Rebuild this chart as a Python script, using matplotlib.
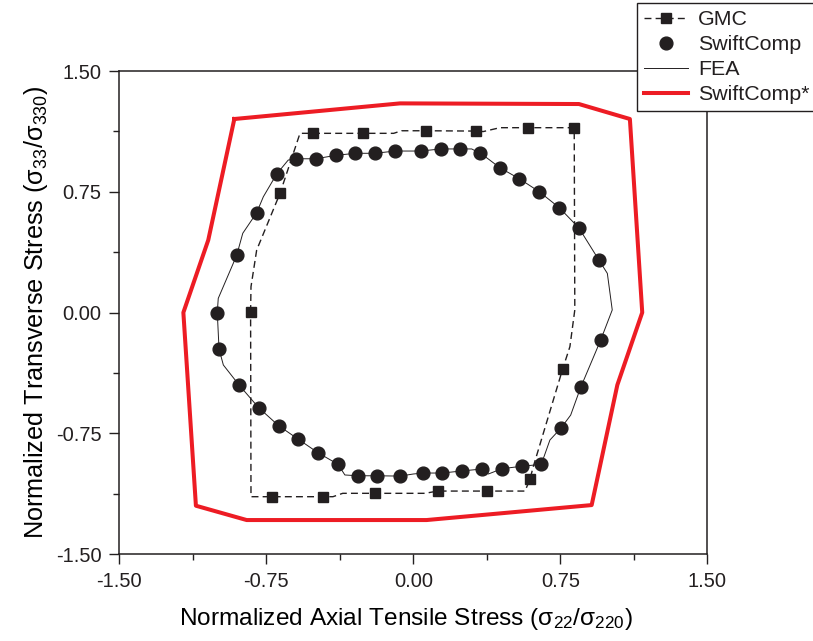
import matplotlib
matplotlib.use("Agg")
import matplotlib.pyplot as plt
from matplotlib.ticker import MultipleLocator

# GMC: dashed path, markers only at the measured points
gmc_x = [-0.830, -0.828, -0.799, -0.680, -0.578, -0.510, -0.258, -0.100, -0.060, 0.063, 0.320, 0.357,
         0.442, 0.587, 0.821, 0.824, 0.799, 0.762, 0.612, 0.595, 0.570, 0.378, 0.124, 0.060, -0.197,
         -0.360, -0.410, -0.462, -0.722, -0.828, -0.830]
gmc_y = [0.003, 0.160, 0.388, 0.740, 1.113, 1.113, 1.113, 1.113, 1.129, 1.129, 1.127, 1.124,
         1.148, 1.148, 1.148, 0.016, -0.212, -0.351, -0.958, -1.036, -1.109, -1.109, -1.109, -1.123, -1.123,
         -1.123, -1.144, -1.144, -1.144, -1.144, 0.003]
gmc_marks = [0, 3, 5, 6, 9, 10, 13, 14, 17, 19, 21, 22, 24, 27, 28]

# SwiftComp points
sc_x = [-1.003, -0.901, -0.799, -0.697, -0.598, -0.498, -0.396, -0.296, -0.195, -0.093,
        0.038, 0.140, 0.238, 0.340, 0.442, 0.541, 0.643, 0.745, 0.845, 0.947,
        0.956, 0.854, 0.754, 0.653, 0.553, 0.453, 0.351, 0.248, 0.148, 0.048,
        -0.068, -0.184, -0.284, -0.384, -0.486, -0.588, -0.687, -0.789, -0.889, -0.991]
sc_y = [0.000, 0.355, 0.620, 0.860, 0.955, 0.955, 0.976, 0.989, 0.989, 1.003,
        1.003, 1.016, 1.016, 0.989, 0.899, 0.831, 0.750, 0.651, 0.525, 0.326,
        -0.171, -0.465, -0.717, -0.943, -0.955, -0.970, -0.972, -0.984, -0.997, -0.997,
        -1.016, -1.014, -1.014, -0.943, -0.871, -0.786, -0.703, -0.591, -0.450, -0.227]

# FEA curve
fea_x = [-1.000, -0.995, -0.901, -0.870, -0.799, -0.765, -0.697, -0.638, -0.598, -0.498, -0.396,
         -0.296, -0.195, -0.093, 0.038, 0.140, 0.238, 0.298, 0.340, 0.378, 0.442, 0.541, 0.643,
         0.745, 0.845, 0.947, 0.990, 1.015, 0.956, 0.854, 0.803, 0.754, 0.697, 0.653, 0.553,
         0.453, 0.383, 0.351, 0.248, 0.148, 0.048, 0.000, -0.068, -0.184, -0.284, -0.349, -0.384,
         -0.486, -0.588, -0.687, -0.789, -0.889, -0.969, -0.991, -1.000]
fea_y = [0.000, 0.088, 0.355, 0.492, 0.620, 0.719, 0.860, 0.947, 0.955, 0.955, 0.976,
         0.989, 0.989, 1.003, 1.003, 1.016, 1.016, 1.016, 0.989, 0.958, 0.899, 0.831, 0.750,
         0.651, 0.525, 0.326, 0.243, 0.016, -0.171, -0.465, -0.637, -0.717, -0.792, -0.943, -0.955,
         -0.970, -1.003, -0.972, -0.984, -0.997, -0.997, -1.003, -1.016, -1.014, -1.014, -1.009, -0.943,
         -0.871, -0.786, -0.703, -0.591, -0.450, -0.326, -0.227, 0.000]

# SwiftComp* envelope
scs_x = [-0.913, -0.068, 0.845, 1.105, 1.168, 1.041, 0.910, 0.068, -0.850, -1.109, -1.173, -1.046, -0.913]
scs_y = [1.202, 1.299, 1.295, 1.202, 0.000, -0.450, -1.196, -1.289, -1.289, -1.200, 0.000, 0.450, 1.202]

ticks = [-1.50, -0.75, 0.00, 0.75, 1.50]

ink = "#231f20"
red = "#ed1c24"

plt.rcParams["font.family"] = ["Liberation Sans", "DejaVu Sans"]
plt.rcParams["mathtext.default"] = "regular"
plt.rcParams["text.color"] = ink

fig = plt.figure(figsize=(8.13, 6.41), dpi=100)
ax = fig.add_axes([0.1467, 0.1357, 0.7233, 0.7535])

ax.plot(gmc_x, gmc_y, color=ink, lw=1.0, ls=(0, (5, 3)), marker="s", ms=7.2,
        markevery=gmc_marks, mfc=ink, mec=ink, label="GMC", zorder=3)
ax.plot(sc_x, sc_y, ls="none", marker="o", ms=9.2, mfc=ink, mec=ink, label="SwiftComp", zorder=4)
ax.plot(fea_x, fea_y, color=ink, lw=0.7, label="FEA", zorder=3)
ax.plot(scs_x, scs_y, color=red, lw=2.9, label="SwiftComp*", zorder=2)

ax.set_xlim(-1.5, 1.5)
ax.set_ylim(-1.5, 1.5)
ax.set_xticks(ticks)
ax.set_yticks(ticks)
ax.set_xticklabels(["%.2f" % t for t in ticks])
ax.set_yticklabels(["%.2f" % t for t in ticks])
ax.xaxis.set_minor_locator(MultipleLocator(0.375))
ax.yaxis.set_minor_locator(MultipleLocator(0.375))
ax.tick_params(which="major", direction="out", length=7.2, width=1.0, color=ink,
               labelsize=14.5, labelcolor=ink, pad=5.5)
ax.tick_params(which="minor", direction="out", length=4.3, width=1.0, color=ink)
for s in ax.spines.values():
    s.set_linewidth(1.1)
    s.set_color(ink)

ax.set_xlabel("Normalized Axial Tensile Stress (σ$_{22}$/σ$_{220}$)", fontsize=17.6)
ax.xaxis.set_label_coords(0.488, -0.134, transform=ax.transAxes)
ax.xaxis.label.set_va("center")
ax.set_ylabel("Normalized Transverse Stress (σ$_{33}$/σ$_{330}$)", fontsize=18.2, labelpad=4)

leg = fig.legend(loc="upper left", bbox_to_anchor=(637 / 813, 1 - 3 / 641), fontsize=15.4,
                 frameon=True, fancybox=False, edgecolor=ink, framealpha=1, numpoints=1,
                 handlelength=2.06, handletextpad=0.47, borderpad=0.33, labelspacing=0.28,
                 borderaxespad=0)
leg.get_frame().set_linewidth(1.0)

fig.savefig("out.png", dpi=100)
